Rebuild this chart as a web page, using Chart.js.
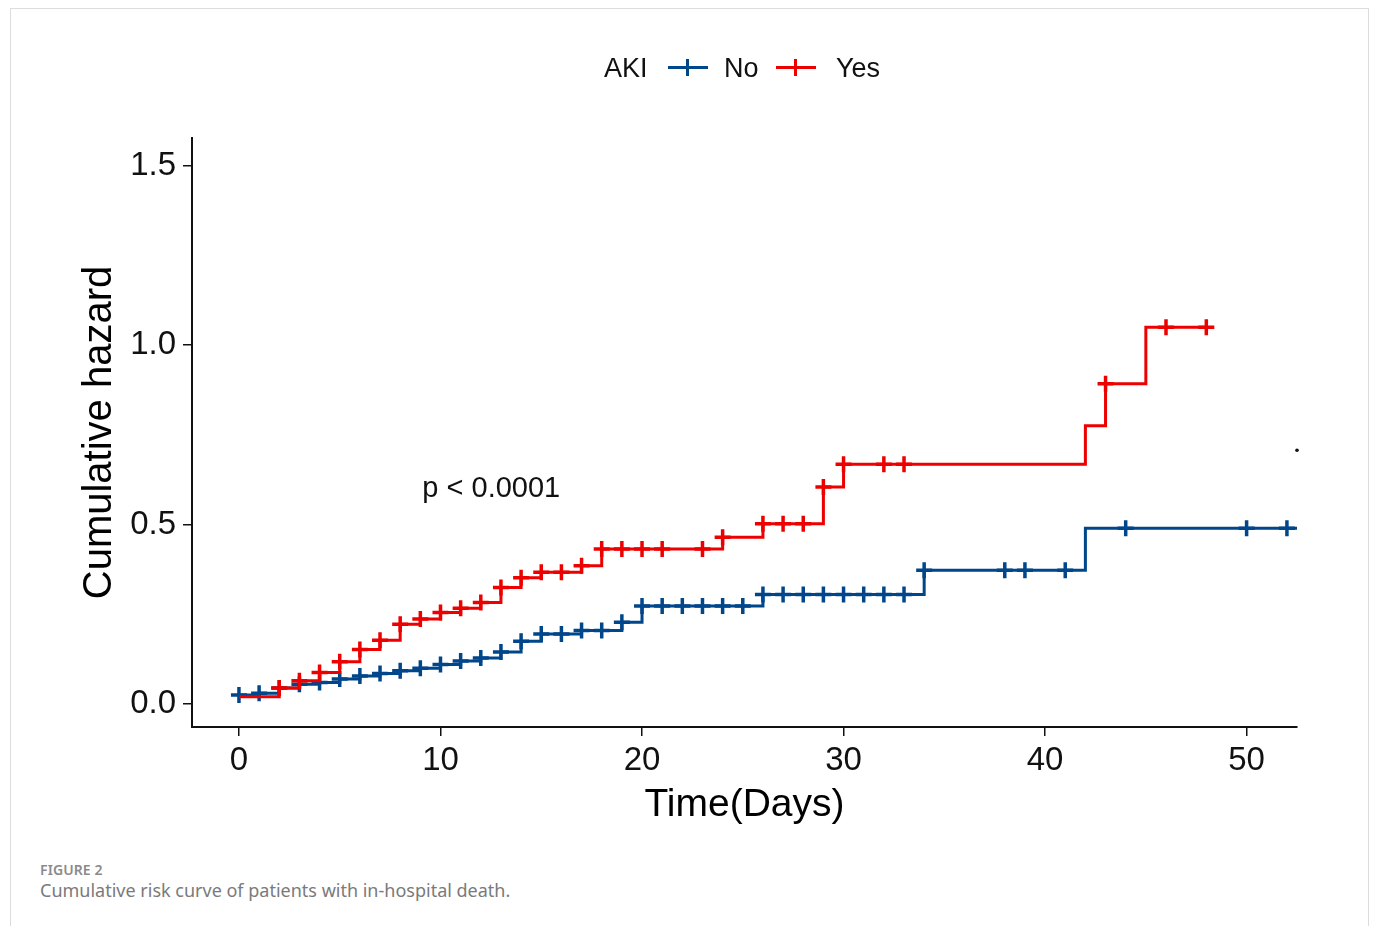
<!DOCTYPE html>
<html>
<head>
<meta charset="utf-8">
<script src="https://cdn.jsdelivr.net/npm/chart.js@4.4.1/dist/chart.umd.min.js"></script>
<style>
  html, body { margin:0; padding:0; background:#fff; }
  body { width:1376px; height:926px; position:relative; overflow:hidden; }
  #frame { position:absolute; left:10px; top:8px; width:1359px; height:940px; border:1px solid #dcdcdc; box-sizing:border-box; }
  #c { position:absolute; left:0; top:0; }
  .lg { position:absolute; font-family:"Liberation Sans", Arial, sans-serif; font-size:27px; color:#111; line-height:30px; top:53px; }
  .sym { position:absolute; top:66px; width:40px; height:3px; }
  .sym::after { content:""; position:absolute; left:18px; top:-7px; width:3px; height:17px; background:inherit; }
  #cap1 { position:absolute; left:40px; top:860px; font-family:"Noto Sans", "Open Sans", sans-serif; font-size:14px; font-weight:600; color:#8a8a8a; letter-spacing:0.1px; }
  #cap2 { position:absolute; left:40px; top:878px; font-family:"Noto Sans", "Open Sans", sans-serif; font-size:18px; color:#7a7a7a; }
</style>
</head>
<body>
<div id="frame"></div>
<canvas id="c" width="1376" height="850"></canvas>
<span class="lg" style="left:604px">AKI</span>
<div class="sym" style="left:668px; background:#00468B"></div>
<span class="lg" style="left:724px">No</span>
<div class="sym" style="left:776px; background:#ED0000"></div>
<span class="lg" style="left:836px">Yes</span>
<div id="cap1">FIGURE 2</div>
<div id="cap2">Cumulative risk curve of patients with in-hospital death.</div>
<script>
// ---- data ----
const seriesNames = ["No", "Yes"];
// AKI = No : step times and cumulative hazard after each step
const noTimes  = [0, 1, 2, 3, 4, 5, 6, 7, 8, 9, 10, 11, 12, 13, 14, 15, 17, 19, 20, 26, 34, 42, 52.5];
const noHazard = [0.025, 0.03, 0.045, 0.055, 0.06, 0.07, 0.078, 0.085, 0.093, 0.1, 0.11, 0.12, 0.128, 0.145, 0.175, 0.195, 0.205, 0.228, 0.273, 0.305, 0.373, 0.49, 0.49];
const noCensor = [0, 1, 2, 3, 4, 5, 6, 7, 8, 9, 10, 11, 12, 13, 14, 15, 16, 17, 18, 19, 20, 21, 22, 23, 24, 25, 26, 27, 28, 29, 30, 31, 32, 33, 34, 38, 39, 41, 44, 50, 52];
// AKI = Yes
const yesTimes  = [0, 2, 3, 4, 5, 6, 7, 8, 9, 10, 11, 12, 13, 14, 15, 17, 18, 24, 26, 29, 30, 42, 43, 45, 48];
const yesHazard = [0.02, 0.045, 0.065, 0.088, 0.118, 0.152, 0.178, 0.222, 0.237, 0.255, 0.267, 0.283, 0.325, 0.352, 0.367, 0.385, 0.432, 0.465, 0.502, 0.605, 0.668, 0.775, 0.892, 1.05, 1.05];
const yesCensor = [2, 3, 4, 5, 6, 7, 8, 9, 10, 11, 12, 13, 14, 15, 16, 17, 18, 19, 20, 21, 23, 24, 26, 27, 28, 29, 30, 32, 33, 43, 46, 48];
// stray dot in the reference
const dotX = [52.5];
const dotY = [0.707];
// tick labels and annotation
const xTickValues = [0, 10, 20, 30, 40, 50];
const yTickValues = [0, 0.5, 1.0, 1.5];
const pText = "p < 0.0001";
const pPos = [9.1, 0.6];

const BLUE = "#00468B", RED = "#ED0000";
const FONT = '"Liberation Sans", Arial, sans-serif';

function toPoints(ts, vs){ return ts.map((t,i)=>({x:t, y:vs[i]})); }
function valueAt(ts, vs, t){ let v = vs[0]; for (let i=0;i<ts.length;i++){ if (ts[i] <= t) v = vs[i]; } return v; }
function censorPoints(cs, ts, vs){ return cs.map(t=>({x:t, y:valueAt(ts, vs, t)})); }

const pPlugin = {
  id: 'ptext',
  afterDatasetsDraw(chart){
    const {ctx, scales:{x, y}} = chart;
    ctx.save();
    ctx.font = '29px ' + FONT;
    ctx.fillStyle = '#111';
    ctx.textAlign = 'left';
    ctx.textBaseline = 'middle';
    ctx.fillText(pText, x.getPixelForValue(pPos[0]), y.getPixelForValue(pPos[1]));
    ctx.restore();
  }
};

new Chart(document.getElementById('c'), {
  type: 'line',
  data: {
    datasets: [
      { label: seriesNames[0], data: toPoints(noTimes, noHazard), borderColor: BLUE, borderWidth: 3, stepped: 'before', pointRadius: 0, fill: false, order: 4 },
      { label: seriesNames[0] + ' censored', data: censorPoints(noCensor, noTimes, noHazard), showLine: false, pointStyle: 'cross', pointRadius: 8, pointBorderWidth: 3.5, borderColor: BLUE, pointBorderColor: BLUE, order: 3 },
      { label: seriesNames[1], data: toPoints(yesTimes, yesHazard), borderColor: RED, borderWidth: 3, stepped: 'before', pointRadius: 0, fill: false, order: 2 },
      { label: seriesNames[1] + ' censored', data: censorPoints(yesCensor, yesTimes, yesHazard), showLine: false, pointStyle: 'cross', pointRadius: 8, pointBorderWidth: 3.5, borderColor: RED, pointBorderColor: RED, order: 1 },
      { label: 'dot', data: toPoints(dotX, dotY), showLine: false, pointRadius: 1.8, pointBackgroundColor: '#111', pointBorderWidth: 0, clip: false, order: 0 }
    ]
  },
  options: {
    responsive: false,
    devicePixelRatio: 1,
    animation: false,
    layout: { padding: { left: 0, right: 79, top: 138, bottom: 0 } },
    plugins: { legend: { display: false }, tooltip: { enabled: false } },
    scales: {
      x: {
        type: 'linear', min: -2.33, max: 52.5,
        afterBuildTicks: s => { s.ticks = xTickValues.map(v => ({value: v})); },
        afterFit: s => { s.height = 850 - 727; },
        ticks: { font: { family: FONT, size: 33 }, color: '#111', padding: 5, callback: v => String(v) },
        grid: { drawOnChartArea: false, drawTicks: true, tickLength: 9, color: '#111', lineWidth: 1.5 },
        border: { color: '#111', width: 2 },
        title: { display: true, text: 'Time(Days)', font: { family: FONT, size: 39, lineHeight: 1.2 }, color: '#000', padding: { top: 0, bottom: 21 } }
      },
      y: {
        type: 'linear', min: -0.064, max: 1.577,
        afterBuildTicks: s => { s.ticks = yTickValues.map(v => ({value: v})); },
        afterFit: s => { s.width = 192; },
        ticks: { font: { family: FONT, size: 33 }, color: '#111', padding: 7, callback: v => Number(v).toFixed(1) },
        grid: { drawOnChartArea: false, drawTicks: true, tickLength: 9, color: '#111', lineWidth: 1.5 },
        border: { color: '#111', width: 2 },
        title: { display: true, text: 'Cumulative hazard', font: { family: FONT, size: 40, lineHeight: 1.2 }, color: '#000', padding: { top: 76, bottom: 0 } }
      }
    }
  },
  plugins: [pPlugin]
});
</script>
</body>
</html>
